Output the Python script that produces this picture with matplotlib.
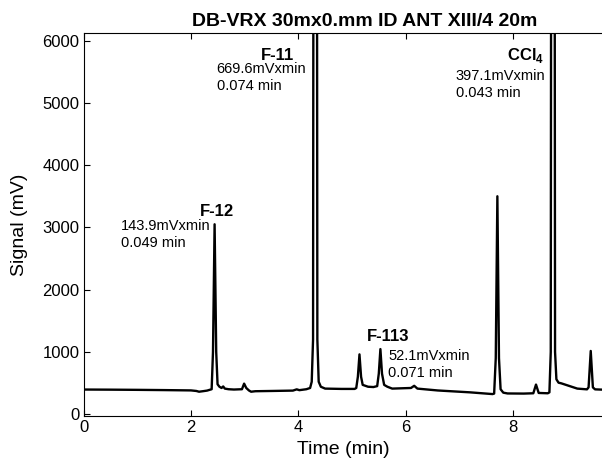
import matplotlib
matplotlib.use("Agg")
import matplotlib.pyplot as plt

plt.rcParams['font.family'] = ['Liberation Sans', 'DejaVu Sans']
plt.rcParams['mathtext.fontset'] = 'custom'
plt.rcParams['mathtext.rm'] = 'Liberation Sans'
plt.rcParams['mathtext.bf'] = 'Liberation Sans:bold'

# chromatogram trace (time in min, signal in mV)
t = [0.00, 0.50, 1.00, 1.50, 2.00, 2.10, 2.15, 2.22, 2.30, 2.385, 2.41, 2.44, 2.47, 2.495,
     2.53, 2.57, 2.60, 2.63, 2.70, 2.80, 2.95, 2.99, 3.03, 3.08, 3.12, 3.20, 3.50, 3.90,
     3.97, 4.02, 4.15, 4.22, 4.25, 4.275, 4.315, 4.355, 4.38, 4.42, 4.50, 4.80, 5.05,
     5.08, 5.11, 5.14, 5.17, 5.20, 5.30, 5.40, 5.47, 5.50, 5.53, 5.56, 5.60, 5.66, 5.75,
     6.10, 6.16, 6.22, 6.60, 7.20, 7.62, 7.65, 7.68, 7.71, 7.74, 7.77, 7.82, 7.90, 8.20,
     8.38, 8.43, 8.48, 8.65, 8.68, 8.705, 8.745, 8.785, 8.81, 8.85, 8.90, 9.20, 9.38,
     9.41, 9.45, 9.49, 9.53, 9.70]
sig = [395, 393, 390, 386, 381, 372, 360, 368, 378, 400, 1000, 3050, 1000, 480,
       440, 420, 445, 410, 400, 395, 400, 490, 420, 380, 360, 368, 372, 378,
       398, 385, 400, 420, 520, 1200, 40000, 1200, 520, 440, 410, 405, 405,
       420, 600, 960, 600, 470, 440, 435, 450, 650, 1045, 650, 470, 440, 410,
       420, 455, 410, 380, 350, 322, 330, 900, 3500, 900, 400, 345, 332, 330,
       335, 475, 340, 335, 350, 1000, 40000, 1000, 560, 505, 495, 410, 398,
       430, 1015, 430, 398, 392]

title = "DB-VRX 30mx0.mm ID ANT XIII/4 20m"
names = ["F-12", "F-11", "F-113", r"CCl$_{\mathbf{4}}$"]
areas = ["143.9mVxmin", "669.6mVxmin", "52.1mVxmin", "397.1mVxmin"]
widths = ["0.049 min", "0.074 min", "0.071 min", "0.043 min"]

fig = plt.figure(figsize=(6.02, 4.59), dpi=100)
ax = fig.add_axes([0.139, 0.0937, 0.861, 0.834])
ax.plot(t, sig, color='black', lw=1.7)

ax.set_xlim(0, 9.66)
ax.set_ylim(-30, 6120)
ax.set_xticks([0, 2, 4, 6, 8])
ax.set_yticks([0, 1000, 2000, 3000, 4000, 5000, 6000])
ax.tick_params(direction='in', length=4, labelsize=12, top=True, pad=3)
ax.spines['right'].set_visible(False)
ax.set_xlabel("Time (min)", fontsize=14, labelpad=4)
ax.set_ylabel("Signal (mV)", fontsize=14, labelpad=10)

fig.text(0.606, 0.943, title, ha='center', va='baseline', fontsize=14, fontweight='bold')

# peak labels: name, area, width
lab_pos = [(2.49, 3190), (3.62, 5690), (5.67, 1170), (8.58, 5690)]
txt_pos = [(0.70, 2953), (2.48, 5473), (5.68, 867), (6.93, 5361)]
for i in range(4):
    ha = 'right' if i == 3 else 'center'
    ax.text(lab_pos[i][0], lab_pos[i][1], names[i], ha=ha, va='baseline',
            fontsize=12, fontweight='bold')
    ax.text(txt_pos[i][0], txt_pos[i][1], areas[i], ha='left', va='baseline', fontsize=10.5)
    ax.text(txt_pos[i][0], txt_pos[i][1] - 273, widths[i], ha='left', va='baseline', fontsize=10.5)

fig.savefig("out.png", dpi=100)
